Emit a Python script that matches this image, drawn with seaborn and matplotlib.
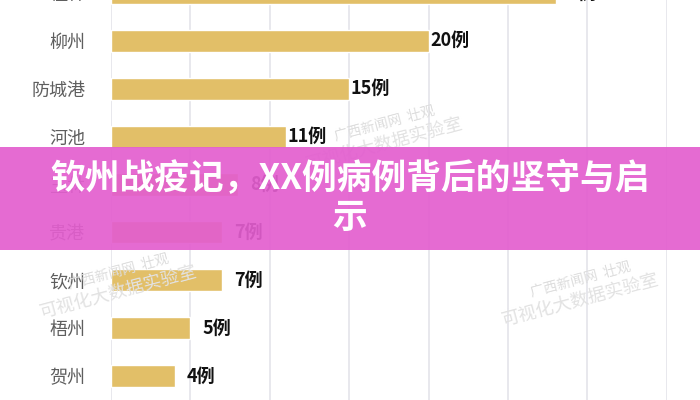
import numpy as np
import matplotlib.pyplot as plt
import pandas as pd
import seaborn as sns
from matplotlib.patches import Rectangle

# Daten
cities = ['桂林', '柳州', '防城港', '河池', '玉林', '贵港', '钦州', '梧州', '贺州']
cases = [28, 20, 15, 11, 8, 7, 7, 5, 4]
case_labels = [f'{c}例' for c in cases]
banner_title = '钦州战疫记，XX例病例背后的坚守与启\n示'
watermark_top = '广西新闻网  壮观'
watermark_bottom = '可视化大数据实验室'

df = pd.DataFrame({'city': cities, 'cases': cases})

sns.set_theme(style='white')
plt.rcParams['font.family'] = ['Noto Sans CJK SC', 'DejaVu Sans']

fig = plt.figure(figsize=(7, 4), dpi=100)
fig.patch.set_facecolor('white')
ax = fig.add_axes([0.1586, 0.0, 0.794, 1.0775])

sns.barplot(data=df, x='cases', y='city', orient='h', color='#E2BF68',
            saturation=1, width=0.46, ax=ax, zorder=3)

ax.set_xlim(0, 35)
ax.set_ylim(len(cities) - 0.5, -0.5)
ax.set_xticks(np.arange(0, 36, 5))
ax.xaxis.grid(True, color='#E4E4EA', linewidth=1.2, zorder=0)
ax.set_axisbelow(True)
ax.tick_params(axis='x', labelbottom=False, length=0)
ax.tick_params(axis='y', length=0, pad=18.5, labelsize=13, labelcolor='#5E5E5E')
ax.set_xlabel('')
ax.set_ylabel('')
for s in ax.spines.values():
    s.set_visible(False)

# Wertebeschriftung rechts neben den Balken
for i, (v, lab) in enumerate(zip(cases, case_labels)):
    ax.annotate(lab, xy=(v, i), xytext=(41, 0), textcoords='offset pixels',
                ha='right', va='center', fontsize=13, fontweight='bold',
                color='#111111', zorder=4)

# Wasserzeichen
for (x, y) in [(0.17, 0.27), (0.83, 0.25), (0.55, 0.64)]:
    fig.text(x, y + 0.05, watermark_top, fontsize=10, color='#DDDDDD',
             rotation=15, ha='center', va='center', zorder=2)
    fig.text(x, y, watermark_bottom, fontsize=13, color='#E2E2E2',
             rotation=15, ha='center', va='center', zorder=2)

# Rosa Banner mit Titel
fig.add_artist(Rectangle((0, 0.375), 1, 0.2575, transform=fig.transFigure,
                         facecolor='#E35ECF', alpha=0.92, edgecolor='none',
                         zorder=10))
fig.text(0.5, 0.505, banner_title, fontsize=25, fontweight='bold',
         color='white', ha='center', va='center', multialignment='center',
         linespacing=1.15, zorder=11)

fig.savefig('out.png', dpi=100)
